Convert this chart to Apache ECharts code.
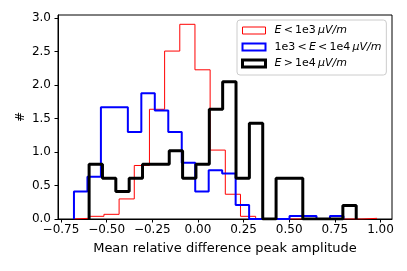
<!DOCTYPE html>
<html>
<head>
<meta charset="utf-8">
<script src="https://cdn.jsdelivr.net/npm/echarts@6/dist/echarts.min.js"></script>
<style>html,body{margin:0;padding:0;background:#fff}#c{width:407px;height:271px}</style>
</head>
<body>
<div id="c"></div>
<script>
// Histogram heights (density), 20 bins per series
const redValues   = [0.01, 0.04, 0.07, 0.30, 0.80, 1.64, 2.51, 2.91, 2.23, 1.03, 0.37, 0.04, 0, 0, 0, 0, 0, 0, 0, 0.01];
const blueValues  = [0.41, 0.63, 1.67, 1.67, 1.30, 1.88, 1.62, 1.30, 0.84, 0.41, 0.73, 0.68, 0.21, 0, 0, 0, 0.045, 0.045, 0, 0.045];
const blackValues = [0.82, 0.61, 0.41, 0.61, 0.82, 0.82, 1.02, 0.61, 0.82, 1.64, 2.05, 0.61, 1.43, 0, 0.61, 0.61, 0, 0, 0, 0.20];
// Bin ranges [first edge, last edge]
const redRange   = [-0.681, 0.981];
const blueRange  = [-0.679, 0.797];
const blackRange = [-0.596, 0.867];
const xTicks = [-0.75, -0.5, -0.25, 0, 0.25, 0.5, 0.75, 1.0];
const yTicks = [0, 0.5, 1.0, 1.5, 2.0, 2.5, 3.0];
const T = '\u2009';
const legendLabels = {
  red: '{i|E}' + T + '<' + T + '1e3' + T + '{i|μV/m}',
  blue: '1e3' + T + '<' + T + '{i|E}' + T + '<' + T + '1e4' + T + '{i|μV/m}',
  black: '{i|E}' + T + '>' + T + '1e4' + T + '{i|μV/m}'
};

function stepData(values, range) {
  const n = values.length;
  const w = (range[1] - range[0]) / n;
  const pts = [[range[0], 0]];
  for (let i = 0; i < n; i++) pts.push([range[0] + i * w, values[i]]);
  pts.push([range[1], 0]);
  return pts;
}
const FONT = 'DejaVu Sans';
const fmtMinus = s => s.replace('-', '\u2212');

const chart = echarts.init(document.getElementById('c'), null, {renderer: 'canvas'});
chart.setOption({
  animation: false,
  backgroundColor: '#fff',
  grid: {left: 58, right: 15, top: 15, bottom: 52, show: true, borderColor: '#000', borderWidth: 1, backgroundColor: 'transparent'},
  xAxis: {
    type: 'value', min: -0.7664, max: 1.063,
    name: 'Mean relative difference peak amplitude', nameLocation: 'middle', nameGap: 23, nameMoveOverlap: false,
    nameTextStyle: {fontFamily: FONT, fontSize: 13, color: '#000'},
    axisLine: {show: true, onZero: false, lineStyle: {color: '#000', width: 1}},
    axisTick: {show: true, length: 3.5, lineStyle: {color: '#000'}, customValues: xTicks},
    axisLabel: {fontFamily: FONT, fontSize: 12, color: '#000', margin: 5, customValues: xTicks,
      formatter: v => fmtMinus(Number(v).toFixed(2))},
    splitLine: {show: false}
  },
  yAxis: {
    type: 'value', min: 0, max: 3.049,
    name: '#', nameLocation: 'middle', nameGap: 31, nameRotate: 90, nameMoveOverlap: false,
    nameTextStyle: {fontFamily: FONT, fontSize: 12, color: '#000'},
    axisLine: {show: true, onZero: false, lineStyle: {color: '#000', width: 1}},
    axisTick: {show: true, length: 3.5, lineStyle: {color: '#000'}, customValues: yTicks},
    axisLabel: {fontFamily: FONT, fontSize: 12, color: '#000', margin: 7, customValues: yTicks,
      formatter: v => Number(v).toFixed(1)},
    splitLine: {show: false}
  },
  legend: {
    orient: 'vertical', left: 237, top: 20, padding: [4, 5, 5, 4], itemGap: 3.5,
    itemWidth: 23, itemHeight: 7,
    backgroundColor: 'rgba(255,255,255,0.8)', borderColor: '#ccc', borderWidth: 1, borderRadius: 3,
    textStyle: {fontFamily: FONT, fontSize: 11, color: '#000', lineHeight: 13, padding: [0, 0, 0, 4],
      rich: {i: {fontFamily: FONT, fontStyle: 'italic', fontSize: 11, color: '#000', lineHeight: 13}}},
    formatter: name => legendLabels[name],
    data: [
      {name: 'red', icon: 'rect', itemStyle: {color: 'rgba(0,0,0,0)', borderColor: '#ff0000', borderWidth: 1}},
      {name: 'blue', icon: 'rect', itemStyle: {color: 'rgba(0,0,0,0)', borderColor: '#0000ff', borderWidth: 2}},
      {name: 'black', icon: 'rect', itemStyle: {color: 'rgba(0,0,0,0)', borderColor: '#000000', borderWidth: 3}}
    ]
  },
  series: [
    {name: 'red', type: 'line', step: 'end', data: stepData(redValues, redRange), showSymbol: false, symbol: 'none',
      color: '#ff0000', lineStyle: {color: '#ff0000', width: 1}, z: 2},
    {name: 'blue', type: 'line', step: 'end', data: stepData(blueValues, blueRange), showSymbol: false, symbol: 'none',
      color: '#0000ff', lineStyle: {color: '#0000ff', width: 2}, z: 3},
    {name: 'black', type: 'line', step: 'end', data: stepData(blackValues, blackRange), showSymbol: false, symbol: 'none',
      color: '#000000', lineStyle: {color: '#000000', width: 3}, z: 4}
  ]
});
</script>
</body>
</html>
